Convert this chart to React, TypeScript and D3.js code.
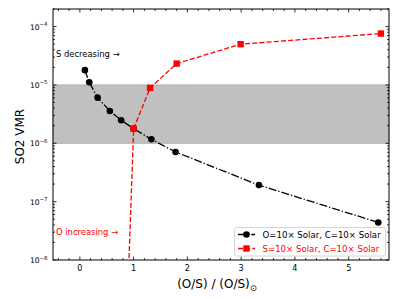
import { useEffect, useRef } from 'react';
import * as d3 from 'd3';

// O=10x solar, S varied -> x = (O/S)/(O/S)sun
const oxRatio = [0.093, 0.174, 0.33, 0.557, 0.768, 1.0, 1.33, 1.78, 3.33, 5.55];
const oxVmr = [1.79e-5, 1.11e-5, 6.05e-6, 3.58e-6, 2.48e-6, 1.78e-6, 1.17e-6, 7.1e-7, 1.92e-7, 4.4e-8];

// S=10x solar, O varied
const sxRatio = [0.9, 1.0, 1.306, 1.8, 2.99, 5.6];
const sxVmr = [4.6e-9, 1.78e-6, 8.9e-6, 2.32e-5, 4.99e-5, 7.59e-5];

const xTicks = [0, 1, 2, 3, 4, 5];
const yExponents = [-8, -7, -6, -5, -4];
const band = [1e-6, 1e-5];
const seriesLabels = ['O=10× Solar, C=10× Solar', 'S=10× Solar, C=10× Solar'];

export default function App() {
    const ref = useRef<SVGSVGElement | null>(null);

    useEffect(() => {
        const width = 399;
        const height = 299;
        const m = { left: 53, right: 389, top: 9, bottom: 260 };
        const font = 'DejaVu Sans, sans-serif';

        const svg = d3.select(ref.current);
        svg.selectAll('*').remove();
        svg.attr('width', width).attr('height', height);

        const x = d3.scaleLinear().domain([-0.5, 5.75]).range([m.left, m.right]);
        const y = d3.scaleLog().domain([1e-8, 2e-4]).range([m.bottom, m.top]);

        svg.append('defs')
            .append('clipPath')
            .attr('id', 'plot-clip')
            .append('rect')
            .attr('x', m.left)
            .attr('y', m.top)
            .attr('width', m.right - m.left)
            .attr('height', m.bottom - m.top);

        // === shaded band ===
        svg.append('rect')
            .attr('x', m.left)
            .attr('width', m.right - m.left)
            .attr('y', y(band[1]))
            .attr('height', y(band[0]) - y(band[1]))
            .attr('fill', '#c0c0c0')
            .attr('stroke', '#a9a9a9')
            .attr('stroke-width', 0.8);

        const plot = svg.append('g').attr('clip-path', 'url(#plot-clip)');

        const line = d3.line<[number, number]>()
            .x((d) => x(d[0]))
            .y((d) => y(d[1]));

        // === black series ===
        const blackData = oxRatio.map((r, i) => [r, oxVmr[i]] as [number, number]);
        plot.append('path')
            .attr('d', line(blackData)!)
            .attr('fill', 'none')
            .attr('stroke', 'black')
            .attr('stroke-width', 1.3)
            .attr('stroke-dasharray', '8,2,1.3,2');
        plot.selectAll('.dot')
            .data(blackData)
            .enter()
            .append('circle')
            .attr('cx', (d) => x(d[0]))
            .attr('cy', (d) => y(d[1]))
            .attr('r', 3.3)
            .attr('fill', 'black');

        // === red series ===
        const redData = sxRatio.map((r, i) => [r, sxVmr[i]] as [number, number]);
        plot.append('path')
            .attr('d', line(redData)!)
            .attr('fill', 'none')
            .attr('stroke', 'red')
            .attr('stroke-width', 1.3)
            .attr('stroke-dasharray', '5,2.2');
        plot.selectAll('.sq')
            .data(redData)
            .enter()
            .append('rect')
            .attr('x', (d) => x(d[0]) - 3.2)
            .attr('y', (d) => y(d[1]) - 3.2)
            .attr('width', 6.4)
            .attr('height', 6.4)
            .attr('fill', 'red');

        // === spines ===
        svg.append('rect')
            .attr('x', m.left)
            .attr('y', m.top)
            .attr('width', m.right - m.left)
            .attr('height', m.bottom - m.top)
            .attr('fill', 'none')
            .attr('stroke', 'black')
            .attr('stroke-width', 1);

        const ticks = svg.append('g').attr('stroke', 'black').attr('stroke-width', 0.8);

        // x ticks (major + minor), bottom and top, pointing in
        const xMinor = d3.range(-4, 57).map((v) => v / 10).filter((v) => Math.round(v * 10) % 2 === 0 && !Number.isInteger(v));
        xTicks.forEach((t) => {
            ticks.append('line').attr('x1', x(t)).attr('x2', x(t)).attr('y1', m.bottom).attr('y2', m.bottom - 3.5);
            ticks.append('line').attr('x1', x(t)).attr('x2', x(t)).attr('y1', m.top).attr('y2', m.top + 3.5);
        });
        xMinor.forEach((t) => {
            ticks.append('line').attr('x1', x(t)).attr('x2', x(t)).attr('y1', m.bottom).attr('y2', m.bottom - 2);
            ticks.append('line').attr('x1', x(t)).attr('x2', x(t)).attr('y1', m.top).attr('y2', m.top + 2);
        });

        // y ticks, left and right
        yExponents.forEach((e) => {
            const v = Math.pow(10, e);
            ticks.append('line').attr('x1', m.left).attr('x2', m.left + 3.5).attr('y1', y(v)).attr('y2', y(v));
            ticks.append('line').attr('x1', m.right).attr('x2', m.right - 3.5).attr('y1', y(v)).attr('y2', y(v));
            for (let k = 2; k <= 9; k++) {
                const mv = k * v;
                if (mv > 2e-4) continue;
                ticks.append('line').attr('x1', m.left).attr('x2', m.left + 2).attr('y1', y(mv)).attr('y2', y(mv));
                ticks.append('line').attr('x1', m.right).attr('x2', m.right - 2).attr('y1', y(mv)).attr('y2', y(mv));
            }
        });

        // x tick labels
        svg.append('g')
            .selectAll('text')
            .data(xTicks)
            .enter()
            .append('text')
            .attr('x', (d) => x(d))
            .attr('y', m.bottom + 11)
            .attr('text-anchor', 'middle')
            .attr('font-family', font)
            .attr('font-size', 8)
            .text((d) => d);

        // y tick labels
        yExponents.forEach((e) => {
            const t = svg.append('text')
                .attr('x', m.left - 5.5)
                .attr('y', y(Math.pow(10, e)) + 3)
                .attr('text-anchor', 'end')
                .attr('font-family', font)
                .attr('font-size', 7.6);
            t.append('tspan').text('10');
            t.append('tspan')
                .attr('font-size', 5.4)
                .attr('dy', -3.5)
                .text(`−${-e}`);
        });

        // axis labels
        const xl = svg.append('text')
            .attr('x', 217)
            .attr('y', 288)
            .attr('text-anchor', 'middle')
            .attr('font-family', font)
            .attr('font-size', 12);
        xl.append('tspan').text('(O/S) / (O/S)');
        xl.append('tspan').attr('font-size', 8.5).attr('dy', 2.5).text('⊙');

        svg.append('text')
            .attr('transform', `translate(23.5, 136.5) rotate(-90)`)
            .attr('text-anchor', 'middle')
            .attr('font-family', font)
            .attr('font-size', 12)
            .text('SO2 VMR');

        // annotations
        svg.append('text')
            .attr('x', 56)
            .attr('y', 56.7)
            .attr('font-family', font)
            .attr('font-size', 8.4)
            .text('S decreasing →');
        svg.append('text')
            .attr('x', 56)
            .attr('y', 235)
            .attr('font-family', font)
            .attr('font-size', 8.4)
            .attr('fill', 'red')
            .text('O increasing →');

        // === legend ===
        const legend = svg.append('g');
        legend.append('rect')
            .attr('x', 234.5)
            .attr('y', 227.5)
            .attr('width', 151)
            .attr('height', 28.5)
            .attr('rx', 2)
            .attr('fill', 'white')
            .attr('fill-opacity', 0.8)
            .attr('stroke', '#cccccc')
            .attr('stroke-width', 0.8);

        const items = legend.selectAll('.legend-item')
            .data(seriesLabels)
            .enter()
            .append('g')
            .attr('transform', (_, i) => `translate(238, ${234.5 + i * 14})`);

        items.append('line')
            .attr('x1', 0)
            .attr('x2', 17)
            .attr('stroke', (_, i) => (i === 0 ? 'black' : 'red'))
            .attr('stroke-width', 1.3)
            .attr('stroke-dasharray', (_, i) => (i === 0 ? '8,2,1.3,2' : '5,2.2'));
        items.filter((_, i) => i === 0)
            .append('circle')
            .attr('cx', 8.5)
            .attr('r', 3.3)
            .attr('fill', 'black');
        items.filter((_, i) => i === 1)
            .append('rect')
            .attr('x', 5.3)
            .attr('y', -3.2)
            .attr('width', 6.4)
            .attr('height', 6.4)
            .attr('fill', 'red');
        items.append('text')
            .attr('x', 24.5)
            .attr('y', 3)
            .attr('font-family', font)
            .attr('font-size', 8.6)
            .attr('fill', (_, i) => (i === 0 ? 'black' : 'red'))
            .text((d) => d);
    }, []);

    return <svg ref={ref} style={{ position: 'absolute', left: 0, top: 0 }} />;
}
